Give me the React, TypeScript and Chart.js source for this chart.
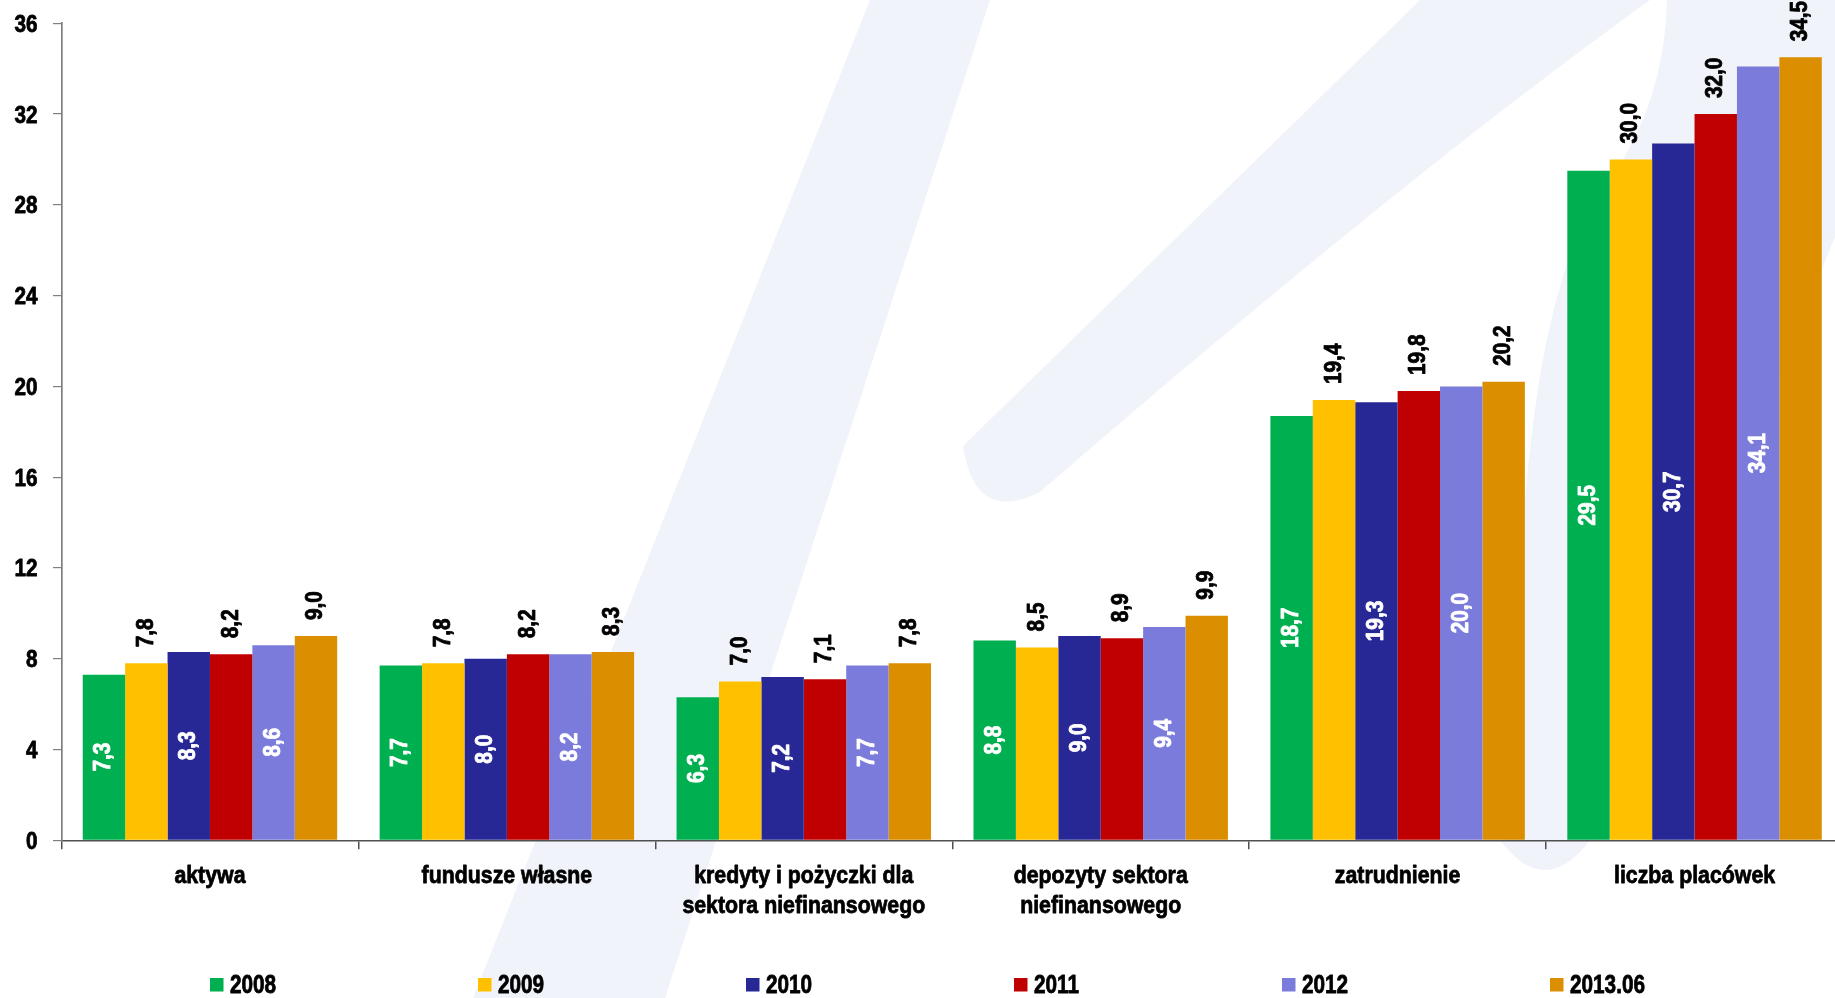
import React, { useEffect, useRef } from "react";
import { Chart, registerables } from "chart.js";

Chart.register(...registerables);

const categories = [
  ["aktywa"],
  ["fundusze własne"],
  ["kredyty i pożyczki dla", "sektora niefinansowego"],
  ["depozyty sektora", "niefinansowego"],
  ["zatrudnienie"],
  ["liczba placówek"],
];
const seriesNames = ["2008", "2009", "2010", "2011", "2012", "2013.06"];
const values2008 = [7.3, 7.7, 6.3, 8.8, 18.7, 29.5];
const values2009 = [7.8, 7.8, 7.0, 8.5, 19.4, 30.0];
const values2010 = [8.3, 8.0, 7.2, 9.0, 19.3, 30.7];
const values2011 = [8.2, 8.2, 7.1, 8.9, 19.8, 32.0];
const values2012 = [8.6, 8.2, 7.7, 9.4, 20.0, 34.1];
const values2013 = [9.0, 8.3, 7.8, 9.9, 20.2, 34.5];
const seriesValues = [values2008, values2009, values2010, values2011, values2012, values2013];
const seriesColors = ["#00AF50", "#FFC000", "#272796", "#C00000", "#7B7BDC", "#DB8E00"];
const labelInside = [true, false, true, false, true, false];
const yMin = 0;
const yMax = 36;
const yStep = 4;

const FONT = "'Liberation Sans', Arial, sans-serif";
const W = 1850;
const H = 998;

// draws horizontally condensed heavy bold text (Arial Narrow Bold look)
function narrowText(ctx: any, text: string, x: number, y: number, size: number, sx: number, align: string, color: string) {
  ctx.save();
  ctx.translate(x, y);
  ctx.scale(sx, 1);
  ctx.font = `bold ${size}px ${FONT}`;
  ctx.fillStyle = color;
  ctx.strokeStyle = color;
  ctx.lineWidth = 0.8;
  ctx.lineJoin = "round";
  ctx.textAlign = align;
  ctx.textBaseline = "alphabetic";
  ctx.fillText(text, 0, 0);
  ctx.strokeText(text, 0, 0);
  ctx.restore();
}

const watermark = {
  id: "watermark",
  beforeDraw(chart: any) {
    const ctx = chart.ctx;
    ctx.save();
    ctx.fillStyle = "#F0F3F9";
    // left stroke
    ctx.beginPath();
    ctx.moveTo(473, 998);
    ctx.lineTo(665, 998);
    ctx.lineTo(990, 0);
    ctx.lineTo(870, 0);
    ctx.closePath();
    ctx.fill();
    // rising swoosh
    ctx.beginPath();
    ctx.moveTo(963, 446);
    ctx.lineTo(1420, 0);
    ctx.lineTo(1650, 0);
    ctx.quadraticCurveTo(1400, 180, 1040, 492);
    ctx.quadraticCurveTo(975, 525, 963, 446);
    ctx.closePath();
    ctx.fill();
    // right leg
    ctx.beginPath();
    ctx.moveTo(1667, 0);
    ctx.lineTo(1850, 0);
    ctx.lineTo(1850, 200);
    ctx.lineTo(1590, 840);
    ctx.quadraticCurveTo(1545, 900, 1500, 840);
    ctx.lineTo(1525, 500);
    ctx.quadraticCurveTo(1545, 260, 1610, 180);
    ctx.quadraticCurveTo(1665, 100, 1667, 0);
    ctx.closePath();
    ctx.fill();
    ctx.restore();
  },
};

const axisText = {
  id: "axisText",
  afterDraw(chart: any) {
    const ctx = chart.ctx;
    const xs = chart.scales.x;
    const ys = chart.scales.y;
    ys.ticks.forEach((t: any) => {
      const py = ys.getPixelForValue(t.value);
      narrowText(ctx, String(t.value), 37.5, py + 8.5, 23, 0.9, "right", "#000000");
    });
    (chart.data.labels as string[][]).forEach((lines, i) => {
      const px = xs.getPixelForValue(i);
      lines.forEach((line, j) => {
        narrowText(ctx, line, px, 883 + j * 30, 24.5, 0.87, "center", "#000000");
      });
    });
  },
};

const valueLabels = {
  id: "valueLabels",
  afterDatasetsDraw(chart: any) {
    const ctx = chart.ctx;
    chart.data.datasets.forEach((ds: any, di: number) => {
      const meta = chart.getDatasetMeta(di);
      const inside = labelInside[di];
      meta.data.forEach((bar: any, i: number) => {
        const v = ds.data[i] as number;
        const text = v.toFixed(1).replace(".", ",");
        const p = bar.getProps(["x", "y", "base"], true);
        ctx.save();
        ctx.translate(p.x, inside ? (p.y + p.base) / 2 : p.y - 16);
        ctx.rotate(-Math.PI / 2);
        ctx.scale(0.885, 1);
        ctx.font = `bold 23.5px ${FONT}`;
        const col = inside ? "#FFFFFF" : "#000000";
        ctx.fillStyle = col;
        ctx.strokeStyle = col;
        ctx.lineWidth = 0.8;
        ctx.lineJoin = "round";
        ctx.textAlign = inside ? "center" : "left";
        ctx.textBaseline = "alphabetic";
        ctx.fillText(text, 0, 6.5);
        ctx.strokeText(text, 0, 6.5);
        ctx.restore();
      });
    });
  },
};

const bottomLegend = {
  id: "bottomLegend",
  afterDraw(chart: any) {
    const ctx = chart.ctx;
    chart.data.datasets.forEach((ds: any, i: number) => {
      const x0 = 210 + i * 268;
      ctx.save();
      ctx.fillStyle = ds.backgroundColor;
      ctx.fillRect(x0, 978, 13.5, 13.5);
      ctx.restore();
      narrowText(ctx, ds.label, x0 + 20, 993, 25, 0.83, "left", "#000000");
    });
  },
};

export default function App() {
  const ref = useRef<HTMLCanvasElement | null>(null);

  useEffect(() => {
    if (!ref.current) return;
    const chart = new Chart(ref.current, {
      type: "bar",
      data: {
        labels: categories,
        datasets: seriesNames.map((name, i) => ({
          label: name,
          data: seriesValues[i],
          backgroundColor: seriesColors[i],
          borderWidth: 0,
          categoryPercentage: 0.857,
          barPercentage: 1.0,
        })),
      },
      options: {
        responsive: false,
        animation: false,
        devicePixelRatio: 1,
        layout: { padding: { top: 23.3, right: 7, bottom: 0, left: 0 } },
        plugins: {
          legend: { display: false },
          tooltip: { enabled: false },
        },
        scales: {
          x: {
            type: "category",
            grid: {
              display: true,
              drawOnChartArea: false,
              offset: true,
              tickLength: 9,
              color: "#505050",
              lineWidth: 1.5,
            },
            border: { display: true, color: "#505050", width: 1.5 },
            ticks: { display: false, autoSkip: false },
            afterFit: (s: any) => {
              s.height = H - 840.3;
            },
          },
          y: {
            min: yMin,
            max: yMax,
            grid: {
              display: true,
              drawOnChartArea: false,
              tickLength: 8.5,
              color: "#7F7F7F",
              lineWidth: 1.2,
            },
            border: { display: true, color: "#7F7F7F", width: 1.7 },
            ticks: { display: false, stepSize: yStep },
            afterFit: (s: any) => {
              s.width = 61.5;
            },
          },
        },
      },
      plugins: [watermark, valueLabels, axisText, bottomLegend],
    });
    return () => chart.destroy();
  }, []);

  return (
    <div style={{ position: "fixed", left: 0, top: 0, width: 1835, height: 998, overflow: "hidden", background: "#FFFFFF" }}>
      <canvas ref={ref} width={W} height={H} style={{ width: W, height: H, display: "block" }} />
    </div>
  );
}
